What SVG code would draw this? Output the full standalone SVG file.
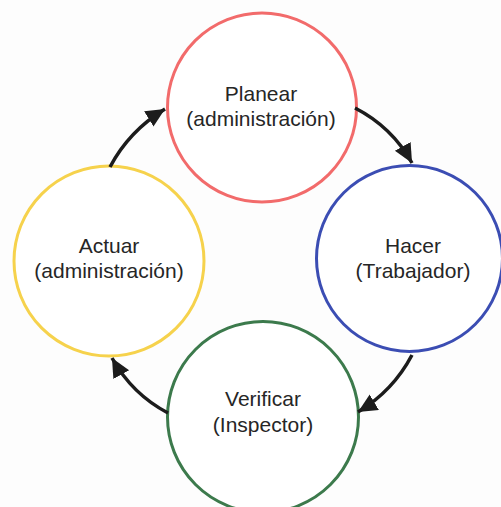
<svg xmlns="http://www.w3.org/2000/svg" width="501" height="507" viewBox="0 0 501 507">
<defs>
<style>
.node circle{fill:#ffffff;stroke-width:3}
.node text{font-family:"Liberation Sans",Arial,sans-serif;font-size:21px;fill:#262626;text-anchor:middle}
.conn path{fill:none;stroke:#1c1c1c;stroke-width:3.5}
</style>
<marker id="ah" markerUnits="userSpaceOnUse" markerWidth="22" markerHeight="20" refX="19" refY="9" orient="auto">
<path d="M0,0 L19,9 L0,18 z" fill="#1c1c1c"/>
</marker>
</defs>
<rect width="501" height="507" fill="#fdfdfd"/>
<g id="planear" class="node">
<circle cx="262" cy="107.5" r="94.5" stroke="#f26b6b"/>
<text x="261" y="101">Planear</text>
<text x="261" y="126">(administración)</text>
</g>
<g id="hacer" class="node">
<circle cx="409.5" cy="258.5" r="93" stroke="#3b4db3"/>
<text x="413" y="253">Hacer</text>
<text x="413" y="278">(Trabajador)</text>
</g>
<g id="verificar" class="node">
<circle cx="263" cy="417" r="95.5" stroke="#3c7a4c"/>
<text x="263" y="406">Verificar</text>
<text x="263" y="432">(Inspector)</text>
</g>
<g id="actuar" class="node">
<circle cx="109" cy="261" r="95" stroke="#f6d24c"/>
<text x="109" y="253">Actuar</text>
<text x="109" y="278">(administración)</text>
</g>
<g id="connectors" class="conn">
<path d="M110,167 Q129,131 165,109" marker-end="url(#ah)"/>
<path d="M355,108 Q392,127 412,163" marker-end="url(#ah)"/>
<path d="M412,355 Q393,391 358,412" marker-end="url(#ah)"/>
<path d="M168,413 Q132,394 112,358" marker-end="url(#ah)"/>
</g>
</svg>
